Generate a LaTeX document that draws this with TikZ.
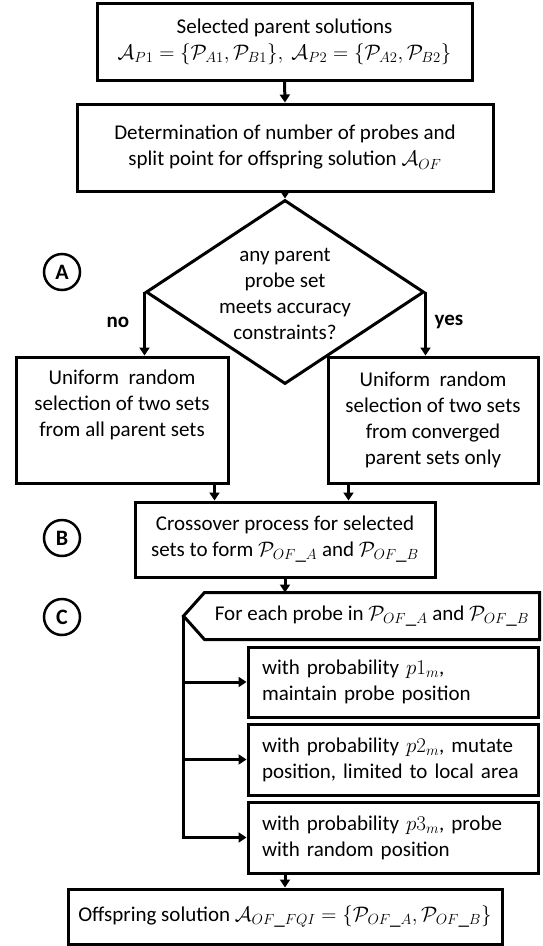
\documentclass[tikz,border=0pt]{standalone}
\usepackage{fix-cm}
\usepackage{fontspec}
\setmainfont{Carlito}
\usetikzlibrary{shapes.geometric,arrows.meta,calc}
\begin{document}
\begin{tikzpicture}[x=1pt,y=-1pt,
  font=\fontsize{21}{26}\selectfont,
  line width=3pt,
  box/.style={draw, line width=3pt, inner sep=0pt, align=center},
  pbox/.style={draw, line width=3pt, minimum width=290pt, text width=262pt, inner xsep=14pt, inner ysep=0pt, align=left},
  arr/.style={line width=3pt, -{Triangle[length=8pt,width=10pt]}},
  lab/.style={font=\fontsize{21}{26}\selectfont\bfseries},
  circ/.style={draw, circle, line width=2.5pt, minimum size=36pt, inner sep=0pt, font=\fontsize{22}{26}\selectfont\bfseries}]
\useasboundingbox (0,0) rectangle (542,946);

\node[box, minimum width=375pt, minimum height=77pt] (b1) at (284.5,41.5)
  {Selected parent solutions\\ $\mathcal{A}_{P1}=\{\mathcal{P}_{A1},\mathcal{P}_{B1}\},\ \mathcal{A}_{P2}=\{\mathcal{P}_{A2},\mathcal{P}_{B2}\}$};
\node[box, minimum width=416pt, minimum height=87pt] (b2) at (285,147.5)
  {Determination of number of probes and\\ split point for offspring solution $\mathcal{A}_{OF}$};

\node[draw, diamond, minimum width=278pt, minimum height=184pt, inner sep=0pt, line width=3pt] (dia) at (285,292) {};
\node[align=center, inner sep=0pt] (dtext) at (285,294) {any parent\\probe set\\meets accuracy\\constraints?};

\node[box, minimum width=212pt, minimum height=126pt] (lb) at (122,420)
  {Uniform~ random\\selection of two sets\\from all parent sets\\\strut};
\node[box, minimum width=210pt, minimum height=126pt] (rb) at (433,420)
  {Uniform~ random\\selection of two sets\\from converged\\parent sets only};

\node[lab] (no) at (118,322) {no};
\node[lab] (yes) at (449,322) {yes};

\node[circ] (cA) at (62,272) {A};
\node[circ] (cB) at (62,538) {B};
\node[circ] (cC) at (62,617) {C};

\node[box, minimum width=300pt, minimum height=75pt] (cr) at (285,539.5)
  {Crossover process for selected\\sets to form $\mathcal{P}_{OF\_A}$ and $\mathcal{P}_{OF\_B}$};

\node[minimum width=332pt, minimum height=44pt, inner sep=0pt] (fl) at (372,616)
  {For each probe in $\mathcal{P}_{OF\_A}$ and $\mathcal{P}_{OF\_B}$};
\coordinate (fp) at ($(fl.west)+(-21,0)$);
\draw[line width=3pt] (fl.north west) -- (fl.north east) -- (fl.south east) -- (fl.south west) -- (fp) -- cycle;

\node[pbox, minimum height=70pt] (p1) at (393,682) {with probability $p1_m$,\\maintain probe position};
\node[pbox, minimum height=71pt] (p2) at (393,759.5) {with probability $p2_m$, mutate\\position, limited to local area};
\node[pbox, minimum height=71pt] (p3) at (393,837.5) {with probability $p3_m$, probe\\with random position};

\node[box, minimum width=434pt, minimum height=55pt] (of) at (285,916.5)
  {Offspring solution $\mathcal{A}_{OF\_FQI}=\bigl\{\mathcal{P}_{OF\_A},\mathcal{P}_{OF\_B}\bigr\}$};

% connectors
\draw[arr] (b1.south) -- (b2.north);
\draw[arr] (b2.south) -- (dia.north);
\draw[arr] (dia.west) -- (dia.west |- lb.north);
\draw[arr] (dia.east) -- (dia.east |- rb.north);
\coordinate (la) at ($(lb.south east)+(-15,0)$);
\coordinate (ra) at ($(rb.south west)+(22,0)$);
\draw[arr] (la) -- (la |- cr.north);
\draw[arr] (ra) -- (ra |- cr.north);
\draw[arr] (cr.south) -- (cr.south |- fl.north);
\draw[arr] (fp) |- (p3.west);
\draw[arr] (fp |- p1.west) -- (p1.west);
\draw[arr] (fp |- p2.west) -- (p2.west);
\draw[arr] (of.north |- p3.south) -- (of.north);
\end{tikzpicture}
\end{document}
